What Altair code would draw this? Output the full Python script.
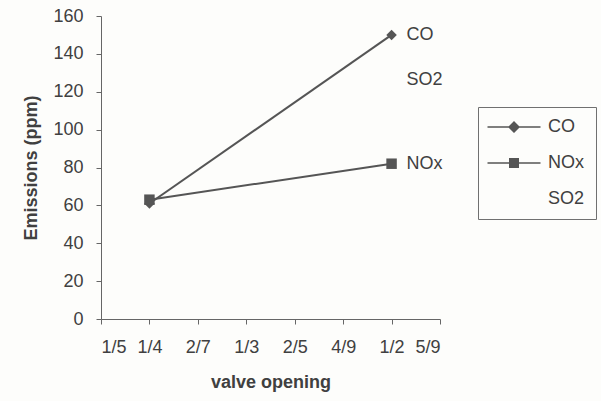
import altair as alt
import pandas as pd

# Emissions measured at two valve openings
opening = [0.25, 0.5]
co = [61, 150]
nox = [63, 82]
so2_end = 126  # SO2 series end label (no plotted points)

series = ["CO", "NOx", "SO2"]
tick_values = [0.2, 0.25, 0.3, 0.35, 0.4, 0.45, 0.5, 0.55]
tick_labels = ["1/5", "1/4", "2/7", "1/3", "2/5", "4/9", "1/2", "5/9"]
y_ticks = [0, 20, 40, 60, 80, 100, 120, 140, 160]

FONT = "Liberation Sans"
INK = "#555555"
TEXT = "#404040"

rows = [{"opening": x, "ppm": v, "series": "CO"} for x, v in zip(opening, co)]
rows += [{"opening": x, "ppm": v, "series": "NOx"} for x, v in zip(opening, nox)]
df = pd.DataFrame(rows)

end_labels = pd.DataFrame({
    "opening": [opening[-1]] * 3,
    "ppm": [co[-1], so2_end, nox[-1]],
    "series": ["CO", "SO2", "NOx"],
})

# fraction labels for the evenly spaced numeric ticks
label_expr = ""
for i, lab in enumerate(tick_labels[:-1]):
    mid = (tick_values[i] + tick_values[i + 1]) / 2
    label_expr += f"datum.value < {mid} ? '{lab}' : "
label_expr += f"'{tick_labels[-1]}'"

x_enc = alt.X(
    "opening:Q",
    scale=alt.Scale(domain=[0.2, 0.55], nice=False, zero=False),
    axis=alt.Axis(values=tick_values, labelExpr=label_expr, title="valve opening",
                  grid=False, tickSize=5, labelPadding=14, titlePadding=17),
)
y_enc = alt.Y(
    "ppm:Q",
    scale=alt.Scale(domain=[0, 160], nice=False),
    axis=alt.Axis(values=y_ticks, title="Emissions (ppm)", grid=False,
                  tickSize=5, labelPadding=13, titlePadding=12),
)

base = alt.Chart(df).encode(x=x_enc, y=y_enc)

lines = base.mark_line(color=INK, strokeWidth=2).encode(detail="series:N")

points = base.mark_point(filled=True, size=110, color=INK, opacity=1).encode(
    shape=alt.Shape("series:N",
                    scale=alt.Scale(domain=["CO", "NOx"], range=["diamond", "square"]),
                    legend=None)
)

text = alt.Chart(end_labels).mark_text(
    align="left", baseline="middle", dx=15, fontSize=18, font=FONT, color=TEXT
).encode(x=x_enc, y=y_enc, text="series:N")

# legend symbols: a thin bar (the line) on each side of the marker
seg = "M-5.3,-0.15H-1V0.15H-5.3Z M1,-0.15H5.3V0.15H1Z "
co_sym = seg + "M-1.2,0L0,-1.2L1.2,0L0,1.2Z"
nox_sym = seg + "M-1,-1H1V1H-1Z"
so2_sym = "M0,0"

legend_layer = alt.Chart(df).transform_filter("false").mark_point(
    filled=True, size=100, color=INK, opacity=1
).encode(
    x=x_enc, y=y_enc,
    shape=alt.Shape(
        "series:N",
        scale=alt.Scale(domain=series, range=[co_sym, nox_sym, so2_sym]),
        legend=alt.Legend(
            title=None, orient="none", legendX=377, legendY=91,
            strokeColor="#707070", padding=11, symbolSize=100,
            symbolFillColor=INK, symbolOpacity=1,
            symbolOffset=16, labelOffset=25, rowPadding=18,
            labelFont=FONT, labelFontSize=18, labelColor=TEXT,
        ),
    ),
)

chart = alt.layer(lines, points, text, legend_layer).resolve_scale(
    shape="independent"
).properties(
    width=339, height=303,
    autosize=alt.AutoSizeParams(type="none"),
    padding={"left": 101, "top": 16, "right": 161, "bottom": 82},
    background="#fdfdfb",
).configure_view(stroke=None).configure_axis(
    domainColor="#666666", tickColor="#666666", labelColor=TEXT,
    labelFont=FONT, labelFontSize=18, titleFont=FONT, titleFontSize=18,
    titleFontWeight="bold", titleColor=TEXT,
)

chart.save("out.html", embed_options={"renderer": "svg", "actions": False})
